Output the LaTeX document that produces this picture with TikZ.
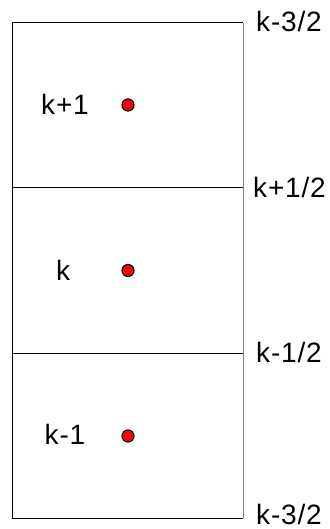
\documentclass[tikz,border=0pt]{standalone}
\usepackage{fontspec}
\setmainfont{Liberation Sans}[LetterSpace=3]
\usetikzlibrary{positioning}

\begin{document}
\begin{tikzpicture}[
	x=1pt, y=-1pt,
	cell/.style={font=\fontsize{28}{32}\selectfont, anchor=base, inner sep=0pt},
	face/.style={font=\fontsize{28}{32}\selectfont, anchor=base west, inner sep=0pt},
	pt/.style={circle, draw=black, fill=red, line width=1.2pt, minimum size=12pt, inner sep=0pt}
]
\useasboundingbox (0,0) rectangle (329,529);
% cell walls
\draw[line width=1pt] (243,23) -- (12.5,23) -- (12.5,518) -- (243,518);
\draw[line width=1pt, gray] (243,23) -- (243,518);
\draw[line width=1pt] (12.5,187.5) -- (243,187.5);
\draw[line width=1pt] (12.5,353) -- (243,353);

% cell centres
\node[pt] (up) at (128,105) {};
\node[pt] (mid) at (128,270.5) {};
\node[pt] (low) at (128,436) {};
\node[cell] (lup) at (65,115) {k+1};
\node[cell] (lmid) at (63,280) {k};
\node[cell] (llow) at (65,444) {k-1};

% face labels
\node[face] (ftop) at (256,32) {k-3/2};
\node[face] (fup) at (253,197) {k+1/2};
\node[face] (flow) at (256,362) {k-1/2};
\node[face] (fbot) at (256,524) {k-3/2};
\end{tikzpicture}
\end{document}
